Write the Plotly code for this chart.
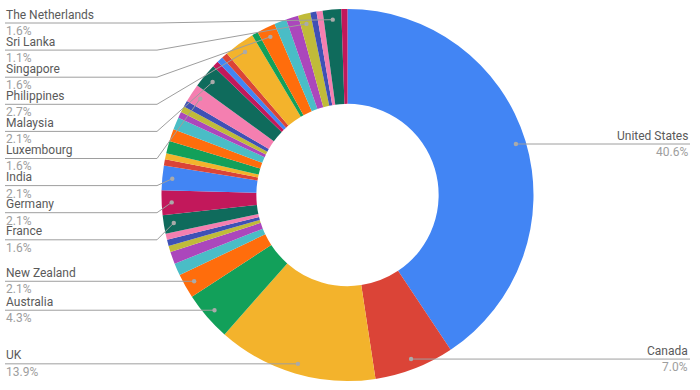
import math
import plotly.graph_objects as go

# ---- data (counts; percentages = count / total) ----
countries = [
    "United States", "Canada", "UK", "Australia", "New Zealand",
    "Country 6", "Country 7", "Country 8", "Country 9", "Country 10",
    "France", "Germany", "India",
    "Country 14", "Country 15", "Country 16", "Country 17", "Country 18",
    "Country 19", "Country 20", "Country 21",
    "Luxembourg", "Malaysia",
    "Country 24", "Country 25", "Country 26",
    "Philippines", "Country 28", "Singapore", "Country 30", "Country 31",
    "Sri Lanka", "Country 33", "Country 34", "The Netherlands", "Country 36",
]
counts = [
    76, 13, 26, 8, 4,
    2, 2, 1, 1, 1,
    3, 4, 4,
    1, 1, 2, 2, 2,
    1, 1, 1,
    3, 4,
    1, 1, 1,
    5, 1, 3, 2, 2,
    2, 1, 1, 3, 1,
]
labeled = [
    "United States", "Canada", "UK", "Australia", "New Zealand", "France",
    "Germany", "India", "Luxembourg", "Malaysia", "Philippines", "Singapore",
    "Sri Lanka", "The Netherlands",
]
palette = [
    "#4285F4", "#DB4437", "#F3B32C", "#12A05A", "#FF6D0C", "#4ABDC6",
    "#AB47BC", "#C0BB39", "#3F51B5", "#F47FB0", "#0F6B5C", "#C2185B",
]

# ---- layout constants ----
W, H = 700, 390
CX, CY, R = 347.5, 195.0, 186.0
HOLE = 0.49
DOT_R = 0.946 * R
NAME_COLOR = "#5a5a5a"
PCT_COLOR = "#9e9e9e"
LINE_COLOR = "#9e9e9e"
FONT = "Roboto"


def px(x):
    return x / W


def py(y):
    return 1 - y / H


total = sum(counts)
colors = [palette[i % len(palette)] for i in range(len(counts))]

fig = go.Figure()
fig.add_trace(go.Pie(
    labels=countries, values=counts, sort=False, direction="clockwise",
    rotation=0, hole=HOLE, textinfo="none", hoverinfo="label+percent",
    marker=dict(colors=colors, line=dict(width=0)),
    domain=dict(x=[px(CX - R), px(CX + R)], y=[py(CY + R), py(CY - R)]),
    showlegend=False,
))

# compute dot positions at slice mid-angles
cum = 0
dots = {}
for name, v in zip(countries, counts):
    mid = (cum + v / 2) / total * 2 * math.pi
    cum += v
    if name in labeled:
        dots[name] = (CX + DOT_R * math.sin(mid), CY - DOT_R * math.cos(mid), v / total * 100)

shapes = []
annotations = []

left = sorted([n for n in labeled if dots[n][0] < CX], key=lambda n: dots[n][1])
right = [n for n in labeled if dots[n][0] >= CX]

SPACING = 27.1
TOP_MIN = 23.0
LEFT_X = 5
ELBOW_X = 157
RIGHT_X = 690
NAME_DY = -8.4
PCT_DY = 7.9

prev = None
for n in left:
    dx, dy, pct = dots[n]
    ly = max(dy, TOP_MIN) if prev is None else max(dy, prev + SPACING)
    prev = ly
    shapes.append(dict(type="path", xref="paper", yref="paper",
                       path=f"M {px(LEFT_X)},{py(ly)} L {px(ELBOW_X)},{py(ly)} L {px(dx)},{py(dy)}",
                       line=dict(color=LINE_COLOR, width=1), layer="above"))
    annotations.append(dict(x=px(LEFT_X - 1), y=py(ly + NAME_DY), xref="paper", yref="paper",
                            text=n, showarrow=False, xanchor="left", yanchor="middle",
                            font=dict(family=FONT, size=12, color=NAME_COLOR)))
    annotations.append(dict(x=px(LEFT_X - 1), y=py(ly + PCT_DY), xref="paper", yref="paper",
                            text=f"{pct:.1f}%", showarrow=False, xanchor="left", yanchor="middle",
                            font=dict(family=FONT, size=12, color=PCT_COLOR)))

for n in right:
    dx, dy, pct = dots[n]
    ly = dy
    shapes.append(dict(type="path", xref="paper", yref="paper",
                       path=f"M {px(dx)},{py(dy)} L {px(RIGHT_X)},{py(ly)}",
                       line=dict(color=LINE_COLOR, width=1), layer="above"))
    annotations.append(dict(x=px(RIGHT_X), y=py(ly + NAME_DY), xref="paper", yref="paper",
                            text=n, showarrow=False, xanchor="right", yanchor="middle",
                            font=dict(family=FONT, size=12, color=NAME_COLOR)))
    annotations.append(dict(x=px(RIGHT_X), y=py(ly + PCT_DY), xref="paper", yref="paper",
                            text=f"{pct:.1f}%", showarrow=False, xanchor="right", yanchor="middle",
                            font=dict(family=FONT, size=12, color=PCT_COLOR)))

for n in labeled:
    dx, dy, _ = dots[n]
    shapes.append(dict(type="circle", xref="paper", yref="paper",
                       x0=px(dx - 2.2), x1=px(dx + 2.2), y0=py(dy + 2.2), y1=py(dy - 2.2),
                       fillcolor="#aaaaaa", line=dict(width=0), layer="above"))

fig.update_layout(
    width=W, height=H, margin=dict(l=0, r=0, t=0, b=0),
    paper_bgcolor="white", plot_bgcolor="white",
    shapes=shapes, annotations=annotations, showlegend=False,
    font=dict(family=FONT),
)

fig.write_html(
    "out.html",
    config={"displayModeBar": False},
    post_script="document.body.style.margin='0';document.body.style.overflow='hidden';",
)
